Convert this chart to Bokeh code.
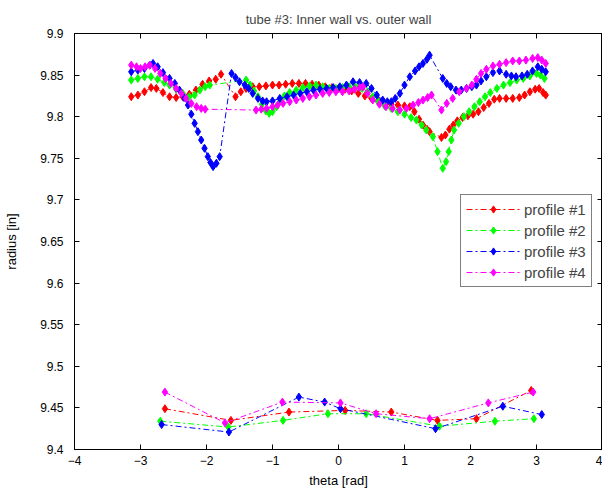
from bokeh.plotting import figure
from bokeh.models import Range1d, FixedTicker, LinearAxis, Legend, LegendItem, CustomJSTickFormatter
from bokeh.embed import file_html
from bokeh.resources import INLINE

# ---------------- data ----------------
# outer wall (top curves)
theta_out_1 = [-3.14,-3.04,-2.94,-2.84,-2.76,-2.66,-2.56,-2.46,-2.36,-2.26,-2.16,-2.06,-1.96,-1.86,-1.78,
               -1.56,-1.48,-1.40,-1.30,-1.20,-1.10,-1.00,-0.90,-0.80,-0.70,-0.60,-0.50,-0.40,-0.30,-0.20,-0.10,
               0.00,0.10,0.20,0.30,0.40,0.50,0.60,0.70,0.80,0.90,1.00,1.08,1.15,1.22,1.28,1.34,1.38,
               1.56,1.62,1.68,1.74,1.80,1.88,1.96,2.04,2.12,2.20,2.28,2.36,2.44,2.54,2.64,2.74,2.82,2.90,2.98,3.04,3.10,3.14]
r_out_1 = [9.824,9.826,9.830,9.835,9.834,9.829,9.824,9.823,9.824,9.827,9.832,9.839,9.843,9.845,9.851,
           9.824,9.830,9.834,9.836,9.836,9.837,9.838,9.838,9.839,9.840,9.840,9.840,9.839,9.838,9.836,9.835,
           9.834,9.833,9.831,9.828,9.825,9.822,9.819,9.816,9.815,9.814,9.813,9.812,9.806,9.797,9.790,9.785,9.782,
           9.775,9.778,9.785,9.790,9.795,9.799,9.801,9.803,9.806,9.811,9.816,9.821,9.822,9.822,9.822,9.823,9.826,9.830,9.833,9.834,9.829,9.826]

theta_out_2 = [-3.14,-3.04,-2.94,-2.84,-2.74,-2.64,-2.56,-2.46,-2.36,-2.26,-2.18,-2.10,-2.02,-1.95,
               -1.40,-1.34,-1.28,-1.22,-1.16,-1.10,-1.05,-1.00,-0.94,-0.88,-0.82,-0.74,-0.64,-0.54,-0.44,-0.34,-0.24,-0.14,-0.04,
               0.06,0.16,0.26,0.36,0.44,0.52,0.60,0.70,0.80,0.90,1.00,1.10,1.18,1.26,1.33,1.43,1.50,1.58,1.63,1.67,1.71,1.75,
               1.82,1.90,1.98,2.06,2.14,2.22,2.30,2.40,2.50,2.60,2.70,2.80,2.90,3.00,3.06,3.12]
r_out_2 = [9.844,9.846,9.848,9.848,9.845,9.841,9.838,9.833,9.828,9.824,9.826,9.832,9.836,9.838,
           9.844,9.838,9.831,9.824,9.815,9.807,9.804,9.806,9.812,9.819,9.825,9.829,9.832,9.835,9.837,9.838,9.836,9.834,9.834,
           9.835,9.836,9.836,9.834,9.830,9.824,9.818,9.813,9.810,9.806,9.803,9.799,9.796,9.790,9.784,9.776,9.758,9.738,9.746,9.758,9.772,9.784,
           9.792,9.800,9.806,9.812,9.818,9.824,9.829,9.834,9.838,9.841,9.844,9.846,9.849,9.852,9.850,9.846]

theta_out_3 = [-3.14,-3.04,-2.94,-2.86,-2.81,-2.74,-2.66,-2.56,-2.48,-2.41,-2.34,-2.28,-2.23,-2.18,-2.13,-2.08,-2.03,-1.98,-1.94,-1.90,-1.85,-1.80,
               -1.62,-1.56,-1.50,-1.42,-1.36,-1.30,-1.22,-1.15,-1.09,-1.00,-0.89,-0.78,-0.68,-0.58,-0.48,-0.38,-0.28,-0.18,-0.08,
               0.02,0.12,0.22,0.32,0.42,0.50,0.58,0.67,0.74,0.80,0.86,0.93,1.00,1.08,1.16,1.22,1.28,1.34,1.38,
               1.58,1.64,1.70,1.78,1.86,1.94,2.02,2.09,2.16,2.24,2.34,2.44,2.54,2.62,2.69,2.78,2.86,2.94,3.02,3.08,3.14]
r_out_3 = [9.854,9.856,9.858,9.862,9.864,9.860,9.853,9.846,9.840,9.832,9.823,9.814,9.803,9.792,9.782,9.772,9.762,9.752,9.745,9.740,9.744,9.752,
           9.852,9.847,9.842,9.838,9.834,9.828,9.822,9.819,9.818,9.819,9.822,9.824,9.826,9.828,9.830,9.832,9.833,9.834,9.835,
           9.836,9.838,9.842,9.841,9.840,9.834,9.826,9.820,9.818,9.818,9.822,9.828,9.838,9.848,9.855,9.860,9.864,9.869,9.874,
           9.846,9.840,9.836,9.832,9.832,9.834,9.836,9.838,9.843,9.848,9.853,9.855,9.851,9.849,9.848,9.849,9.851,9.855,9.860,9.857,9.854]

theta_out_4 = [-3.14,-3.06,-3.00,-2.93,-2.86,-2.78,-2.70,-2.62,-2.54,-2.46,-2.38,-2.31,-2.23,-2.15,-2.08,-2.02,
               -1.25,-1.17,-1.09,-1.00,-0.92,-0.84,-0.74,-0.64,-0.54,-0.44,-0.34,-0.24,-0.14,-0.04,
               0.06,0.16,0.24,0.32,0.37,0.44,0.52,0.62,0.72,0.82,0.93,1.03,1.13,1.21,1.28,1.35,1.41,
               1.56,1.64,1.73,1.83,1.94,2.02,2.09,2.16,2.24,2.34,2.44,2.54,2.64,2.74,2.84,2.94,3.02,3.08,3.14]
r_out_4 = [9.862,9.860,9.858,9.860,9.862,9.858,9.852,9.846,9.840,9.834,9.828,9.822,9.816,9.812,9.810,9.809,
           9.808,9.809,9.810,9.812,9.814,9.816,9.818,9.820,9.822,9.824,9.826,9.828,9.829,9.830,
           9.830,9.831,9.833,9.835,9.836,9.828,9.820,9.815,9.812,9.810,9.808,9.810,9.814,9.817,9.820,9.823,9.826,
           9.808,9.816,9.822,9.830,9.834,9.838,9.845,9.852,9.857,9.861,9.863,9.865,9.867,9.867,9.868,9.870,9.871,9.868,9.864]

# inner wall (bottom curves)
theta_in_1 = [-2.63, -1.63, -0.75, 0.10, 0.80, 1.50, 2.09, 2.92]
r_in_1 = [9.449, 9.435, 9.445, 9.447, 9.445, 9.435, 9.437, 9.471]
theta_in_2 = [-2.70, -1.67, -0.84, -0.16, 0.42, 1.53, 2.37, 2.96]
r_in_2 = [9.434, 9.427, 9.435, 9.443, 9.443, 9.428, 9.434, 9.437]
theta_in_3 = [-2.68, -1.66, -0.60, -0.21, 0.03, 1.47, 2.49, 3.08]
r_in_3 = [9.430, 9.421, 9.463, 9.457, 9.449, 9.425, 9.452, 9.442]
theta_in_4 = [-2.63, -1.72, -0.85, 0.03, 0.57, 1.38, 2.27, 2.95]
r_in_4 = [9.469, 9.432, 9.457, 9.456, 9.443, 9.437, 9.456, 9.469]

series_labels = ["profile #1", "profile #2", "profile #3", "profile #4"]
series_colors = ["#ff0000", "#00ff00", "#0000ff", "#ff00ff"]

x_ticks = [-4, -3, -2, -1, 0, 1, 2, 3, 4]
y_ticks = [9.4, 9.45, 9.5, 9.55, 9.6, 9.65, 9.7, 9.75, 9.8, 9.85, 9.9]
y_tick_labels = ["9.4", "9.45", "9.5", "9.55", "9.6", "9.65", "9.7", "9.75", "9.8", "9.85", "9.9"]

title_text = "tube #3: Inner wall vs. outer wall"
x_label = "theta [rad]"
y_label = "radius [in]"

# ---------------- figure ----------------
FONT = "Liberation Sans"
p = figure(frame_width=528, frame_height=416, output_backend="svg", toolbar_location=None,
           x_range=Range1d(-4, 4), y_range=Range1d(9.4, 9.9),
           min_border_left=74, min_border_right=0, min_border_top=33, min_border_bottom=38,
           title=title_text)
p.title.align = "center"
p.title.text_font = FONT
p.title.text_font_size = "13px"
p.title.text_font_style = "normal"
p.title.standoff = 13
p.background_fill_color = "white"
p.border_fill_color = "white"
p.outline_line_color = "black"
p.outline_line_width = 1
p.grid.visible = False

for ax in (p.xaxis[0], p.yaxis[0]):
    ax.major_tick_in = 5
    ax.major_tick_out = 0
    ax.minor_tick_in = 0
    ax.minor_tick_out = 0
    ax.axis_line_color = "black"
    ax.major_tick_line_color = "black"
    ax.major_label_text_font = FONT
    ax.major_label_text_font_size = "12px"
    ax.major_label_text_color = "black"
    ax.axis_label_text_font = FONT
    ax.axis_label_text_font_size = "13px"
    ax.axis_label_text_font_style = "normal"
    ax.axis_label_text_color = "black"

p.xaxis[0].ticker = FixedTicker(ticks=x_ticks)
p.yaxis[0].ticker = FixedTicker(ticks=y_ticks)
p.yaxis[0].major_label_overrides = dict(zip(y_ticks, y_tick_labels))
p.xaxis[0].axis_label = x_label
p.yaxis[0].axis_label = y_label
p.xaxis[0].major_label_standoff = 6
p.yaxis[0].major_label_standoff = 11
p.xaxis[0].axis_label_standoff = 5
p.yaxis[0].axis_label_standoff = 18

# mirror ticks on top and right (no labels)
blank = CustomJSTickFormatter(code="return ''")
top_ax = LinearAxis(ticker=FixedTicker(ticks=x_ticks), formatter=blank, major_tick_in=5, major_tick_out=0,
                    minor_tick_in=0, minor_tick_out=0, major_label_standoff=0, axis_line_color="black")
right_ax = LinearAxis(ticker=FixedTicker(ticks=y_ticks), formatter=blank, major_tick_in=5, major_tick_out=0,
                      minor_tick_in=0, minor_tick_out=0, major_label_standoff=0, axis_line_color="black")
p.add_layout(top_ax, "above")
p.add_layout(right_ax, "right")

outer = [(theta_out_1, r_out_1), (theta_out_2, r_out_2), (theta_out_3, r_out_3), (theta_out_4, r_out_4)]
inner = [(theta_in_1, r_in_1), (theta_in_2, r_in_2), (theta_in_3, r_in_3), (theta_in_4, r_in_4)]

DASH = "6 3 2 3"
items = []
for (to, ro), (ti, ri), col, lab in zip(outer, inner, series_colors, series_labels):
    l1 = p.line(to, ro, line_color=col, line_width=1, line_dash=DASH)
    s1 = p.scatter(to, ro, marker="diamond", size=8, fill_color=col, line_color=col)
    l2 = p.line(ti, ri, line_color=col, line_width=1, line_dash=DASH)
    s2 = p.scatter(ti, ri, marker="diamond", size=8, fill_color=col, line_color=col)
    items.append(LegendItem(label=lab, renderers=[l1, s1]))

legend = Legend(items=items, location=(386, 162))
legend.label_text_font = FONT
legend.label_text_font_size = "15px"
legend.glyph_width = 54
legend.glyph_height = 18
legend.spacing = 3
legend.padding = 5
legend.margin = 0
legend.label_standoff = 4
legend.border_line_color = "black"
legend.border_line_width = 1
legend.background_fill_color = "white"
legend.background_fill_alpha = 1.0
p.add_layout(legend)

open("out.html", "w").write(file_html(p, INLINE))
